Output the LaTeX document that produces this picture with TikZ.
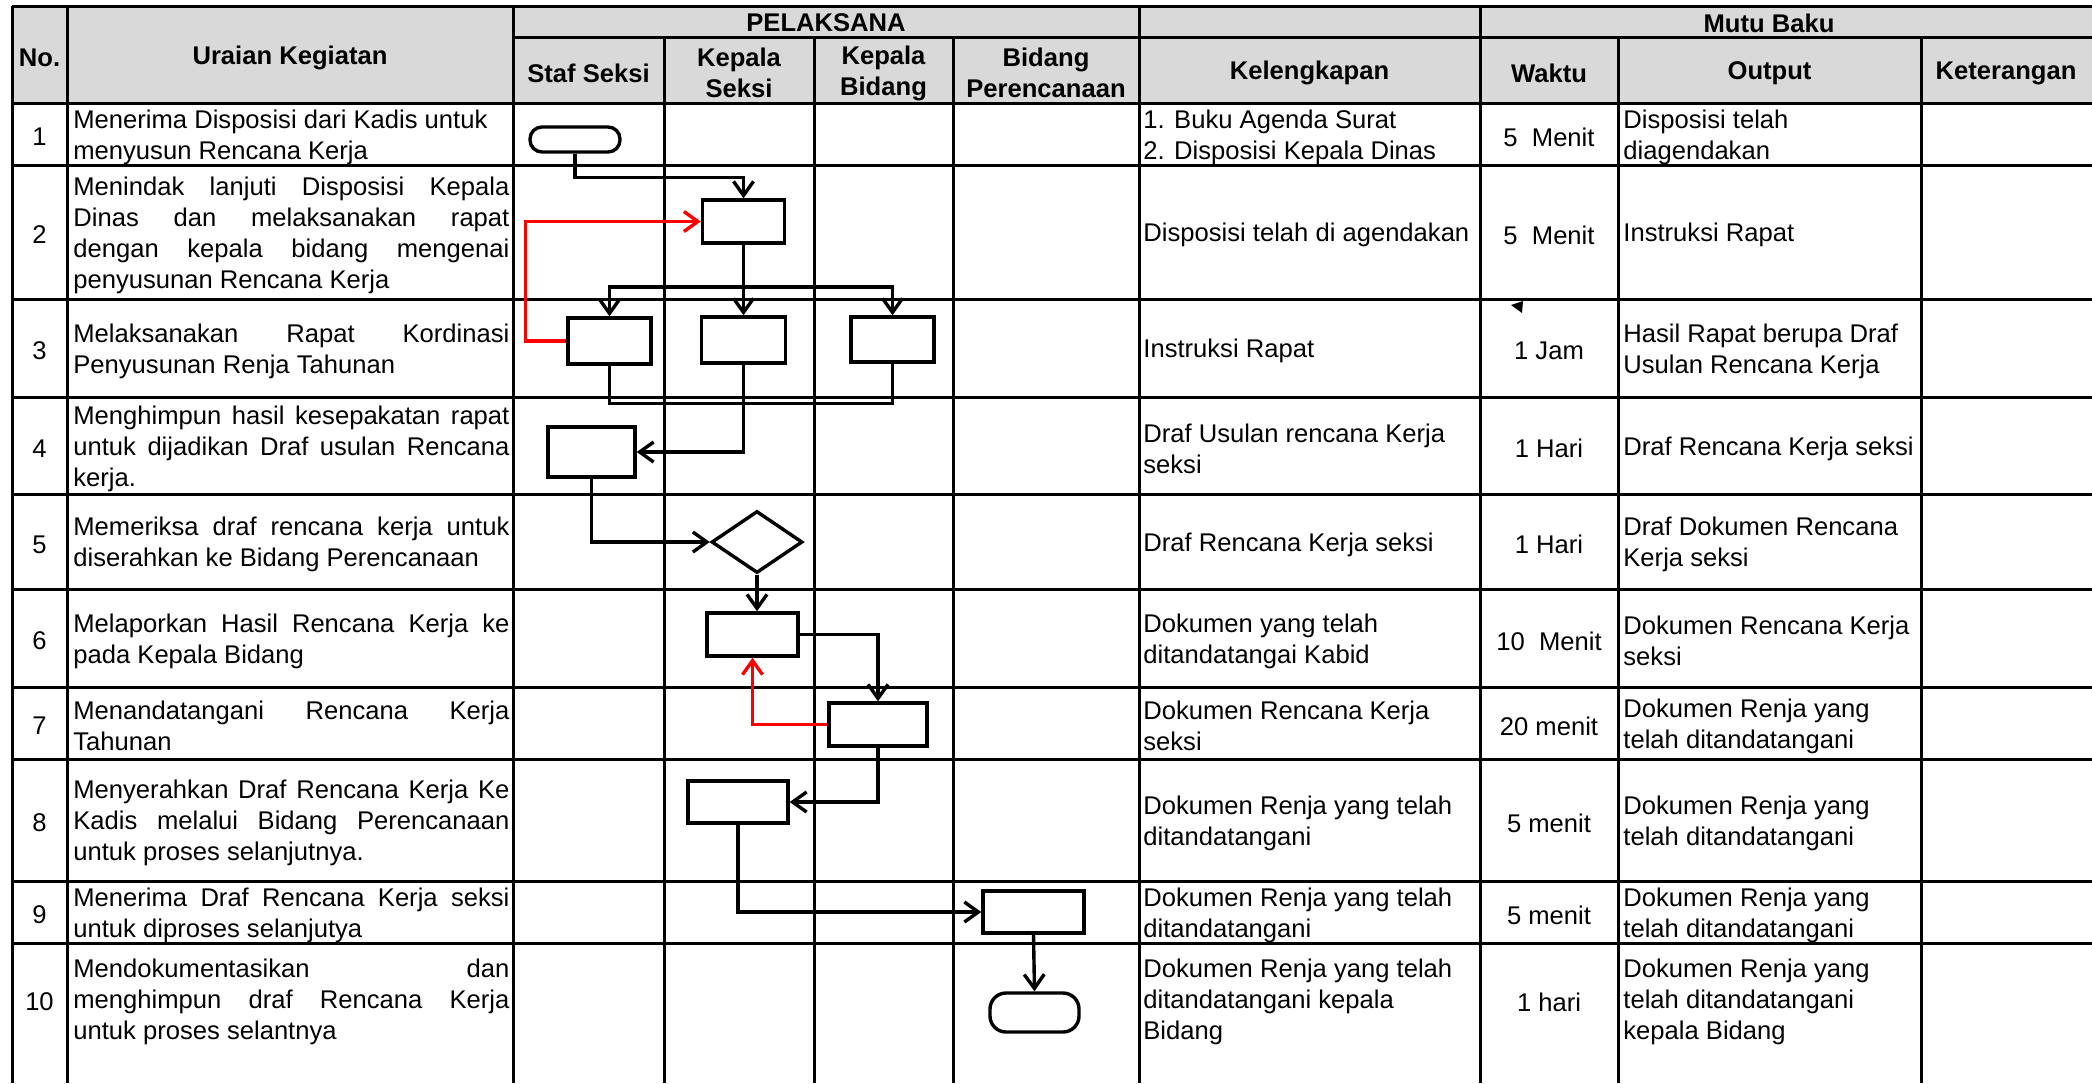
\documentclass[tikz,border=0pt]{standalone}
\usepackage{fontspec}
\setmainfont{Liberation Sans}
\usepackage{tikz}
\usetikzlibrary{positioning,arrows.meta,shapes.geometric}
\usepackage{xcolor}
\definecolor{headgray}{RGB}{217,217,217}
\definecolor{backflow}{RGB}{255,0,0}
\newcommand{\jl}[1]{\makebox[218pt][s]{#1}}

\begin{document}
\begin{tikzpicture}[x=0.5pt, y=-0.5pt,
    font=\fontsize{12.8}{15.5}\selectfont,
    rule/.style={line width=1.5pt},
    head/.style={font=\fontsize{12.8}{15.5}\selectfont\bfseries, align=center, inner sep=0pt, yshift=-1.5pt},
    cell/.style={anchor=west, align=left, inner sep=0pt, yshift=-1.5pt},
    mid/.style={align=center, inner sep=0pt, yshift=-1.5pt},
    proc/.style={draw, line width=1.7pt, inner sep=0pt},
    term/.style={draw, line width=1.7pt, inner sep=0pt},
    decision/.style={draw, diamond, line width=1.7pt, inner sep=0pt, minimum width=45.5pt, minimum height=31pt},
    arrow/.style={-{Straight Barb[length=7pt,width=10pt]}, line width=1.7pt},
    link/.style={line width=1.7pt},
    backarrow/.style={arrow, draw=backflow, line width=1.7pt}
]
    \useasboundingbox (0,0) rectangle (2092,1083);
    \fill[headgray] (12,6) rectangle (2092,103);
    \foreach \y in {6,103,165,299,397,494,589,687,759,881,943}
        \draw[rule] (12,\y) -- (2092,\y);
    \draw[rule] (513,37) -- (2092,37);
    \foreach \x in {12,67,513,1139,1480}
        \draw[rule] (\x,6) -- (\x,1083);
    \foreach \x in {664,814,953,1618,1921}
        \draw[rule] (\x,37) -- (\x,1083);

    \node[head] (hno) at (39.5,54.5) {No.};
    \node[head] (hurai) at (290,54.5) {Uraian Kegiatan};
    \node[head] (hpel) at (826,20) {PELAKSANA};
    \node[head] (hmutu) at (1769,20) {Mutu Baku};
    \node[head] (hstaf) at (588.5,70) {Staf Seksi};
    \node[head] (hkasi) at (739,70) {Kepala\\Seksi};
    \node[head] (hkabid) at (883.5,70) {Kepala\\Bidang};
    \node[head] (hbid) at (1046,70) {Bidang\\Perencanaan};
    \node[head] (hleng) at (1309.5,70) {Kelengkapan};
    \node[head] (hwaktu) at (1549,70) {Waktu};
    \node[head] (hout) at (1769.5,70) {Output};
    \node[head] (hket) at (2006,70) {Keterangan};

    \node[mid] (n1) at (39.5,134) {1};
    \node[mid] (n2) at (39.5,232) {2};
    \node[mid] (n3) at (39.5,348) {3};
    \node[mid] (n4) at (39.5,445.5) {4};
    \node[mid] (n5) at (39.5,541.5) {5};
    \node[mid] (n6) at (39.5,638) {6};
    \node[mid] (n7) at (39.5,723) {7};
    \node[mid] (n8) at (39.5,820) {8};
    \node[mid] (n9) at (39.5,912) {9};
    \node[mid] (n10) at (39.5,999) {10};

    \node[cell] (u1) at (73,134) {Menerima Disposisi dari Kadis untuk\\menyusun Rencana Kerja};
    \node[cell] (u2) at (73,232) {\jl{Menindak lanjuti Disposisi Kepala}\\\jl{Dinas dan melaksanakan rapat}\\\jl{dengan kepala bidang mengenai}\\penyusunan Rencana Kerja};
    \node[cell] (u3) at (73,348) {\jl{Melaksanakan Rapat Kordinasi}\\Penyusunan Renja Tahunan};
    \node[cell] (u4) at (73,445.5) {\jl{Menghimpun hasil kesepakatan rapat}\\\jl{untuk dijadikan Draf usulan Rencana}\\kerja.};
    \node[cell] (u5) at (73,541.5) {\jl{Memeriksa draf rencana kerja untuk}\\diserahkan ke Bidang Perencanaan};
    \node[cell] (u6) at (73,638) {\jl{Melaporkan Hasil Rencana Kerja ke}\\pada Kepala Bidang};
    \node[cell] (u7) at (73,723) {\jl{Menandatangani Rencana Kerja}\\Tahunan};
    \node[cell] (u8) at (73,820) {\jl{Menyerahkan Draf Rencana Kerja Ke}\\\jl{Kadis melalui Bidang Perencanaan}\\untuk proses selanjutnya.};
    \node[cell] (u9) at (73,912) {\jl{Menerima Draf Rencana Kerja seksi}\\untuk diproses selanjutya};
    \node[cell] (u10) at (73,999) {\jl{Mendokumentasikan dan}\\\jl{menghimpun draf Rencana Kerja}\\untuk proses selantnya};

    \node[cell] (k1) at (1143,134) {1. Buku Agenda Surat\\2. Disposisi Kepala Dinas};
    \node[cell] (k2) at (1143,232) {Disposisi telah di agendakan};
    \node[cell] (k3) at (1143,348) {Instruksi Rapat};
    \node[cell] (k4) at (1143,445.5) {Draf Usulan rencana Kerja\\seksi};
    \node[cell] (k5) at (1143,541.5) {Draf Rencana Kerja seksi};
    \node[cell] (k6) at (1143,638) {Dokumen yang telah\\ditandatangai Kabid};
    \node[cell] (k7) at (1143,723) {Dokumen Rencana Kerja\\seksi};
    \node[cell] (k8) at (1143,820) {Dokumen Renja yang telah\\ditandatangani};
    \node[cell] (k9) at (1143,912) {Dokumen Renja yang telah\\ditandatangani};
    \node[cell] (k10) at (1143,999) {Dokumen Renja yang telah\\ditandatangani kepala\\Bidang};

    \node[mid] (w1) at (1549,134) {5~~Menit};
    \node[mid] (w2) at (1549,232) {5~~Menit};
    \node[mid] (w3) at (1549,348) {1 Jam};
    \node[mid] (w4) at (1549,445.5) {1 Hari};
    \node[mid] (w5) at (1549,541.5) {1 Hari};
    \node[mid] (w6) at (1549,638) {10~~Menit};
    \node[mid] (w7) at (1549,723) {20 menit};
    \node[mid] (w8) at (1549,820) {5 menit};
    \node[mid] (w9) at (1549,912) {5 menit};
    \node[mid] (w10) at (1549,999) {1 hari};

    \node[cell] (o1) at (1623,134) {Disposisi telah\\diagendakan};
    \node[cell] (o2) at (1623,232) {Instruksi Rapat};
    \node[cell] (o3) at (1623,348) {Hasil Rapat berupa Draf\\Usulan Rencana Kerja};
    \node[cell] (o4) at (1623,445.5) {Draf Rencana Kerja seksi};
    \node[cell] (o5) at (1623,541.5) {Draf Dokumen Rencana\\Kerja seksi};
    \node[cell] (o6) at (1623,638) {Dokumen Rencana Kerja\\seksi};
    \node[cell] (o7) at (1623,723) {Dokumen Renja yang\\telah ditandatangani};
    \node[cell] (o8) at (1623,820) {Dokumen Renja yang\\telah ditandatangani};
    \node[cell] (o9) at (1623,912) {Dokumen Renja yang\\telah ditandatangani};
    \node[cell] (o10) at (1623,999) {Dokumen Renja yang\\telah ditandatangani\\kepala Bidang};

    \fill (1511,305) -- (1523,301) -- (1522,313) -- cycle;

    \node[term, rounded corners=6pt, minimum width=45pt, minimum height=12.5pt] (start) at (575,139.5) {};
    \node[proc, minimum width=41pt, minimum height=21.5pt] (s2) at (743.5,221.5) {};
    \node[proc, minimum width=41.5pt, minimum height=23pt] (s3a) at (609.5,341) {};
    \node[proc, minimum width=42pt, minimum height=23pt] (s3b) at (743.5,340) {};
    \node[proc, minimum width=41.5pt, minimum height=22.5pt] (s3c) at (892.5,339.5) {};
    \node[proc, minimum width=43.5pt, minimum height=25pt] (s4) at (591.5,452) {};
    \node[decision] (s5) at (757,542) {};
    \node[proc, minimum width=45.5pt, minimum height=21.5pt] (s6) at (752.5,634.5) {};
    \node[proc, minimum width=49pt, minimum height=21.5pt] (s7) at (878,724.5) {};
    \node[proc, minimum width=50pt, minimum height=21pt] (s8) at (738,802) {};
    \node[proc, minimum width=50.5pt, minimum height=21pt] (s9) at (1033.5,912) {};
    \node[term, rounded corners=8pt, minimum width=44.5pt, minimum height=19.5pt] (finish) at (1034.5,1012.5) {};

    \coordinate (split) at (743.5,287);
    \draw[arrow] (start.south) -- ++(0,24) -| (s2.north);
    \draw[backarrow] (s3a.west) -- ++(-41,0) |- (s2.west);
    \draw[arrow] (s2.south) -- (s3b.north);
    \draw[arrow] (split) -| (s3a.north);
    \draw[arrow] (split) -| (s3c.north);
    \draw[link] (s3a.south) -- ++(0,38) -| (s3c.south);
    \draw[arrow] (s3b.south) |- (s4.east);
    \draw[arrow] (s4.south) |- (s5.west);
    \draw[arrow] (s5.south) -- (s5.south |- s6.north);
    \draw[arrow] (s6.east) -| (s7.north);
    \draw[backarrow] (s7.west) -| (s6.south);
    \draw[arrow] (s7.south) |- (s8.east);
    \draw[arrow] (s8.south) |- (s9.west);
    \draw[arrow] (s9.south) -- (finish.north);
\end{tikzpicture}
\end{document}
